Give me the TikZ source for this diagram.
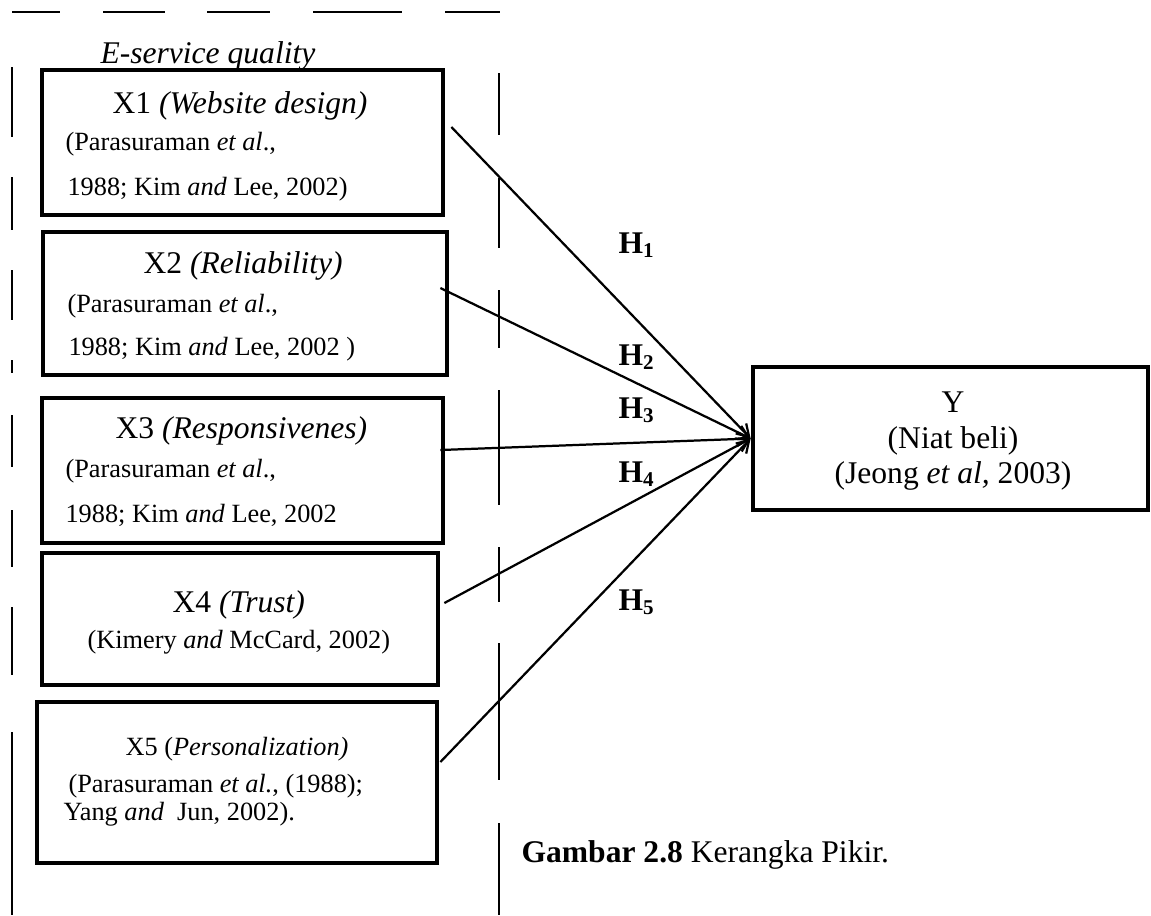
\documentclass[tikz,border=0pt]{standalone}
\usepackage{fontspec}
\setmainfont{Liberation Serif}
\usepackage{tikz}
\usetikzlibrary{arrows.meta,calc,fit}

\begin{document}
\begin{tikzpicture}[
  x=0.38pt, y=-0.38pt,
  font=\fontsize{12}{14}\selectfont,
  varbox/.style={draw, line width=1.8pt, inner sep=0pt},
  head/.style={anchor=base west, inner sep=0pt},
  cite/.style={anchor=base west, inner sep=0pt, font=\fontsize{10}{12}\selectfont},
  hyp/.style={anchor=base west, inner sep=0pt, font=\fontsize{12}{14}\selectfont\bfseries},
  arr/.style={-{Straight Barb[length=4.5pt,width=5.5pt]}, line width=0.85pt},
  guide/.style={line width=0.75pt}
]
\useasboundingbox (0,0) rectangle (1151,915);

% frame of the e-service group
\foreach \a/\b in {12/60,103/165,207/270,313/402,445/500}
  \draw[guide] (\a,12) -- (\b,12);
\foreach \a/\b in {67/137,177/230,270/320,360/373,415/467,510/567,607/675,732/915}
  \draw[guide] (12,\a) -- (12,\b);
\foreach \a/\b in {73/135,178/248,290/348,390/505,547/602,643/780,823/915}
  \draw[guide] (499,\a) -- (499,\b);

\node[head] (esq) at (100,63) {\textit{E-service quality}};

% independent variables
\node[varbox, fit={(42,70) (443,215)}] (x1) {};
\node[head] (x1t) at (112,113) {X1 \textit{(Website design)}};
\node[cite] (x1a) at (65,150) {(Parasuraman \textit{et al}.,};
\node[cite] (x1b) at (67,195) {1988; Kim \textit{and} Lee, 2002)};

\node[varbox, fit={(43,232) (447,375)}] (x2) {};
\node[head] (x2t) at (143,273) {X2 \textit{(Reliability)}};
\node[cite] (x2a) at (67,312) {(Parasuraman \textit{et al}.,};
\node[cite] (x2b) at (68,355) {1988; Kim \textit{and} Lee, 2002 )};

\node[varbox, fit={(42,398) (443,543)}] (x3) {};
\node[head] (x3t) at (115,438) {X3 \textit{(Responsivenes)}};
\node[cite] (x3a) at (65,477) {(Parasuraman \textit{et al}.,};
\node[cite] (x3b) at (65,522) {1988; Kim \textit{and} Lee, 2002};

\node[varbox, fit={(42,553) (438,685)}] (x4) {};
\node[head] (x4t) at (172,612) {X4 \textit{(Trust)}};
\node[cite] (x4a) at (87,648) {(Kimery \textit{and} McCard, 2002)};

\node[varbox, fit={(37,702) (437,863)}] (x5) {};
\node[cite] (x5t) at (125,755) {X5 (\textit{Personalization)}};
\node[cite] (x5a) at (68,792) {(Parasuraman \textit{et al.}, (1988);};
\node[cite] (x5b) at (63,820) {Yang \textit{and}\ \ Jun, 2002).};

% dependent variable
\node[varbox, fit={(753,367) (1148,510)}] (y) {};
\node[anchor=base, inner sep=0pt] (yt) at (953,412) {Y};
\node[anchor=base, inner sep=0pt] (ya) at (953,448) {(Niat beli)};
\node[anchor=base, inner sep=0pt] (yb) at (953,483) {(Jeong \textit{et al,} 2003)};

% hypotheses
\draw[arr] ($(x1.east)+(6,-15.5)$) -- (y.west);
\draw[arr] ($(x2.east)+(-9,-15.5)$) -- (y.west);
\draw[arr] ($(x3.east)+(-5,-20.5)$) -- (y.west);
\draw[arr] ($(x4.east)+(4,-16)$) -- (y.west);
\draw[arr] ($(x5.east)+(1,-20.5)$) -- (y.west);

\node[hyp] (h1) at (618,253) {H\textsubscript{1}};
\node[hyp] (h2) at (618,365) {H\textsubscript{2}};
\node[hyp] (h3) at (618,418) {H\textsubscript{3}};
\node[hyp] (h4) at (618,482) {H\textsubscript{4}};
\node[hyp] (h5) at (618,610) {H\textsubscript{5}};

\node[head] (cap) at (521,862) {\textbf{Gambar 2.8} Kerangka Pikir.};
\end{tikzpicture}
\end{document}
